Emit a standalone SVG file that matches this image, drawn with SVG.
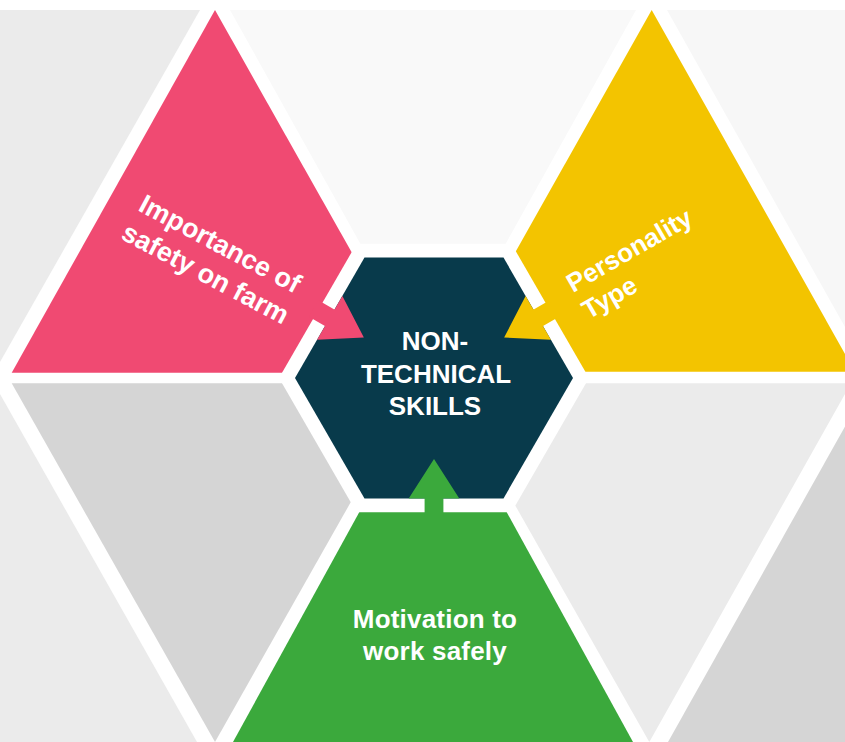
<svg xmlns="http://www.w3.org/2000/svg" width="845" height="742" viewBox="0 0 845 742">
<style>
.lbl{font-family:"Liberation Sans",Arial,Helvetica,sans-serif;font-weight:bold;fill:#ffffff;font-size:26px}
.mid{text-anchor:middle}
.big{font-size:27px}
</style>
<defs>
<path id="arrow" d="M424.6,490 H443.4 V517 H424.6 Z M434,459 L459.3,498.4 L408.7,498.4 Z"/>
</defs>
<rect width="845" height="742" fill="#ffffff"/>
<g id="background-tiles">
<polygon points="0,10 200,10 0,362" fill="#ebebeb"/>
<polygon points="230,10 636,10 433,374" fill="#f9f9f9"/>
<polygon points="667,10 845,10 845,327" fill="#f7f7f7"/>
<polygon points="0,394 197,742 0,742" fill="#ebebeb"/>
<polygon points="11.7,383.3 418,383.3 215,742" fill="#d5d5d5"/>
<polygon points="446,383.3 851,383.3 649.3,742" fill="#ebebeb"/>
<polygon points="668,742 870,382 870,742" fill="#d5d5d5"/>
</g>
<g id="node-importance">
<polygon points="215,10 419.6,372.7 11.7,372.7" fill="#f04a72"/>
</g>
<g id="node-personality">
<polygon points="651.7,10 855,371.7 448,371.7" fill="#f3c400"/>
</g>
<g id="node-motivation">
<polygon points="433,378 633,742 233,742" fill="#3ba93c"/>
</g>
<g id="node-center">
<polygon points="279,378 356.5,243.8 511.5,243.8 589,378 511.5,512.2 356.5,512.2" fill="#ffffff"/>
<polygon points="295,378 364.5,257.6 503.5,257.6 573,378 503.5,498.4 364.5,498.4" fill="#083a4b"/>
</g>
<g id="connectors">
<use href="#arrow" fill="#f04a72" transform="rotate(120 434 378)"/>
<use href="#arrow" fill="#f3c400" transform="rotate(-120 434 378)"/>
<use href="#arrow" fill="#3ba93c"/>
</g>
<g id="labels">
<text class="lbl mid" x="435" y="350">NON-</text>
<text class="lbl mid" x="436" y="383">TECHNICAL</text>
<text class="lbl mid" x="435" y="415">SKILLS</text>
<text class="lbl mid" x="435" y="628" letter-spacing="0.2">Motivation to</text>
<text class="lbl mid" x="435" y="660" letter-spacing="0.2">work safely</text>
<g transform="translate(137,210) rotate(28)">
<text class="lbl big" x="0" y="0">Importance of</text>
<text class="lbl big" x="-2" y="33">safety on farm</text>
</g>
<g transform="translate(573,293) rotate(-30)">
<text class="lbl" x="0" y="0">Personality</text>
<text class="lbl" x="0" y="31">Type</text>
</g>
</g>
</svg>
